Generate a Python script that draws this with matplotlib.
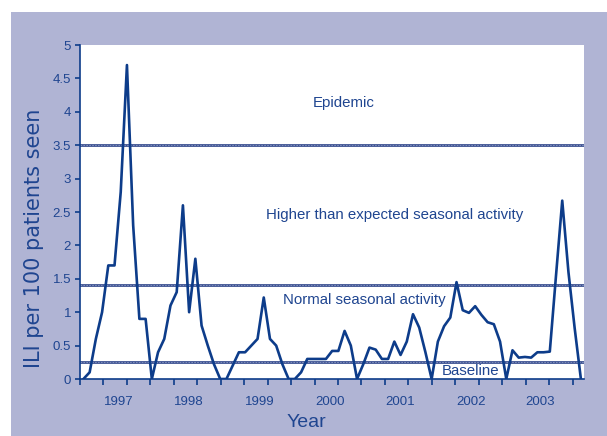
import matplotlib
matplotlib.use("Agg")
import matplotlib.pyplot as plt
from matplotlib.patches import Rectangle
import numpy as np

# ILI per 100 patients seen, one value per reporting period (Jul 1996 .. mid 2003)
ili = [0, 0.1, 0.6, 1.0, 1.7, 1.7, 2.8, 4.7, 2.3, 0.9, 0.9, 0,
       0.4, 0.6, 1.1, 1.3, 2.6, 1.0, 1.8, 0.8, 0.5, 0.22, 0, 0,
       0.2, 0.4, 0.4, 0.5, 0.6, 1.22, 0.6, 0.5, 0.22, 0, 0, 0.1,
       0.3, 0.3, 0.3, 0.3, 0.42, 0.42, 0.72, 0.5, 0, 0.22, 0.47, 0.44,
       0.3, 0.3, 0.56, 0.36, 0.56, 0.97, 0.77, 0.4, 0, 0.56, 0.79, 0.92,
       1.45, 1.03, 0.99, 1.09, 0.96, 0.85, 0.82, 0.56, 0, 0.43, 0.32, 0.33,
       0.32, 0.4, 0.4, 0.41, 1.55, 2.67, 1.6, 0.76, 0]

thresholds = [3.5, 1.4, 0.25]
zone_labels = ["Epidemic", "Higher than expected seasonal activity",
               "Normal seasonal activity", "Baseline"]
zone_pos = [(41.8, 4.13), (50.1, 2.45), (45.2, 1.18), (62.3, 0.12)]

years = ["1997", "1998", "1999", "2000", "2001", "2002", "2003"]
year_pos = [5.62, 17.0, 28.3, 39.6, 50.9, 62.3, 73.5]
tick_pos = np.arange(22) * 3.772 - 0.55

BG = "#B0B4D4"
BLUE = "#0D3C8A"
TXT = "#1F4590"

plt.rcParams["font.family"] = ["Liberation Sans", "DejaVu Sans"]

fig = plt.figure(figsize=(6.07, 4.36), dpi=100)
fig.patch.set_facecolor("white")
fig.add_artist(Rectangle((11 / 607, 0), 1 - 11 / 607, 1 - 12 / 436,
                         transform=fig.transFigure, facecolor=BG,
                         edgecolor="none", zorder=-10))

ax = fig.add_axes([80 / 607, 57 / 436, 504 / 607, 334 / 436])
ax.set_facecolor("white")

x = np.arange(len(ili))
for t in thresholds:
    ax.axhline(t, color="#3A4F90", lw=2.0, zorder=2)
    ax.axhline(t, color="#8C9AC4", lw=0.6, ls=(0, (2, 1.5)), zorder=2)
ax.plot(x, ili, color=BLUE, lw=1.9, zorder=3)

for (px, py), s in zip(zone_pos, zone_labels):
    ax.text(px, py, s, ha="center", va="center", fontsize=10.8, color=TXT,
            zorder=4)

ax.set_xlim(-0.5, len(ili) - 0.5)
ax.set_ylim(0, 5)
ax.set_yticks(np.arange(0, 5.01, 0.5))
ax.set_yticklabels(["0", "0.5", "1", "1.5", "2", "2.5", "3", "3.5", "4",
                    "4.5", "5"])
ax.set_xticks(tick_pos)
ax.set_xticklabels([])
ax.set_xticks(year_pos, minor=True)
ax.set_xticklabels(years, minor=True)
ax.tick_params(axis="x", which="major", length=4.5, width=1.2, color=BLUE,
               direction="out")
ax.tick_params(axis="x", which="minor", length=0, pad=12, labelsize=9.5,
               labelcolor=TXT)
ax.tick_params(axis="y", length=3.5, width=1.2, color=BLUE, labelsize=9.5,
               labelcolor=TXT, pad=3)

for s in ["top", "right"]:
    ax.spines[s].set_visible(False)
for s in ["left", "bottom"]:
    ax.spines[s].set_color(BLUE)
    ax.spines[s].set_linewidth(1.2)

ax.set_xlabel("Year", fontsize=14, color=TXT)
ax.xaxis.set_label_coords(0.449, -0.105)
ax.set_ylabel("ILI per 100 patients seen", fontsize=15, color=TXT,
              family="DejaVu Sans")
ax.yaxis.set_label_coords(-0.072, 0.42)

fig.savefig("out.png", dpi=100, facecolor=fig.get_facecolor())
